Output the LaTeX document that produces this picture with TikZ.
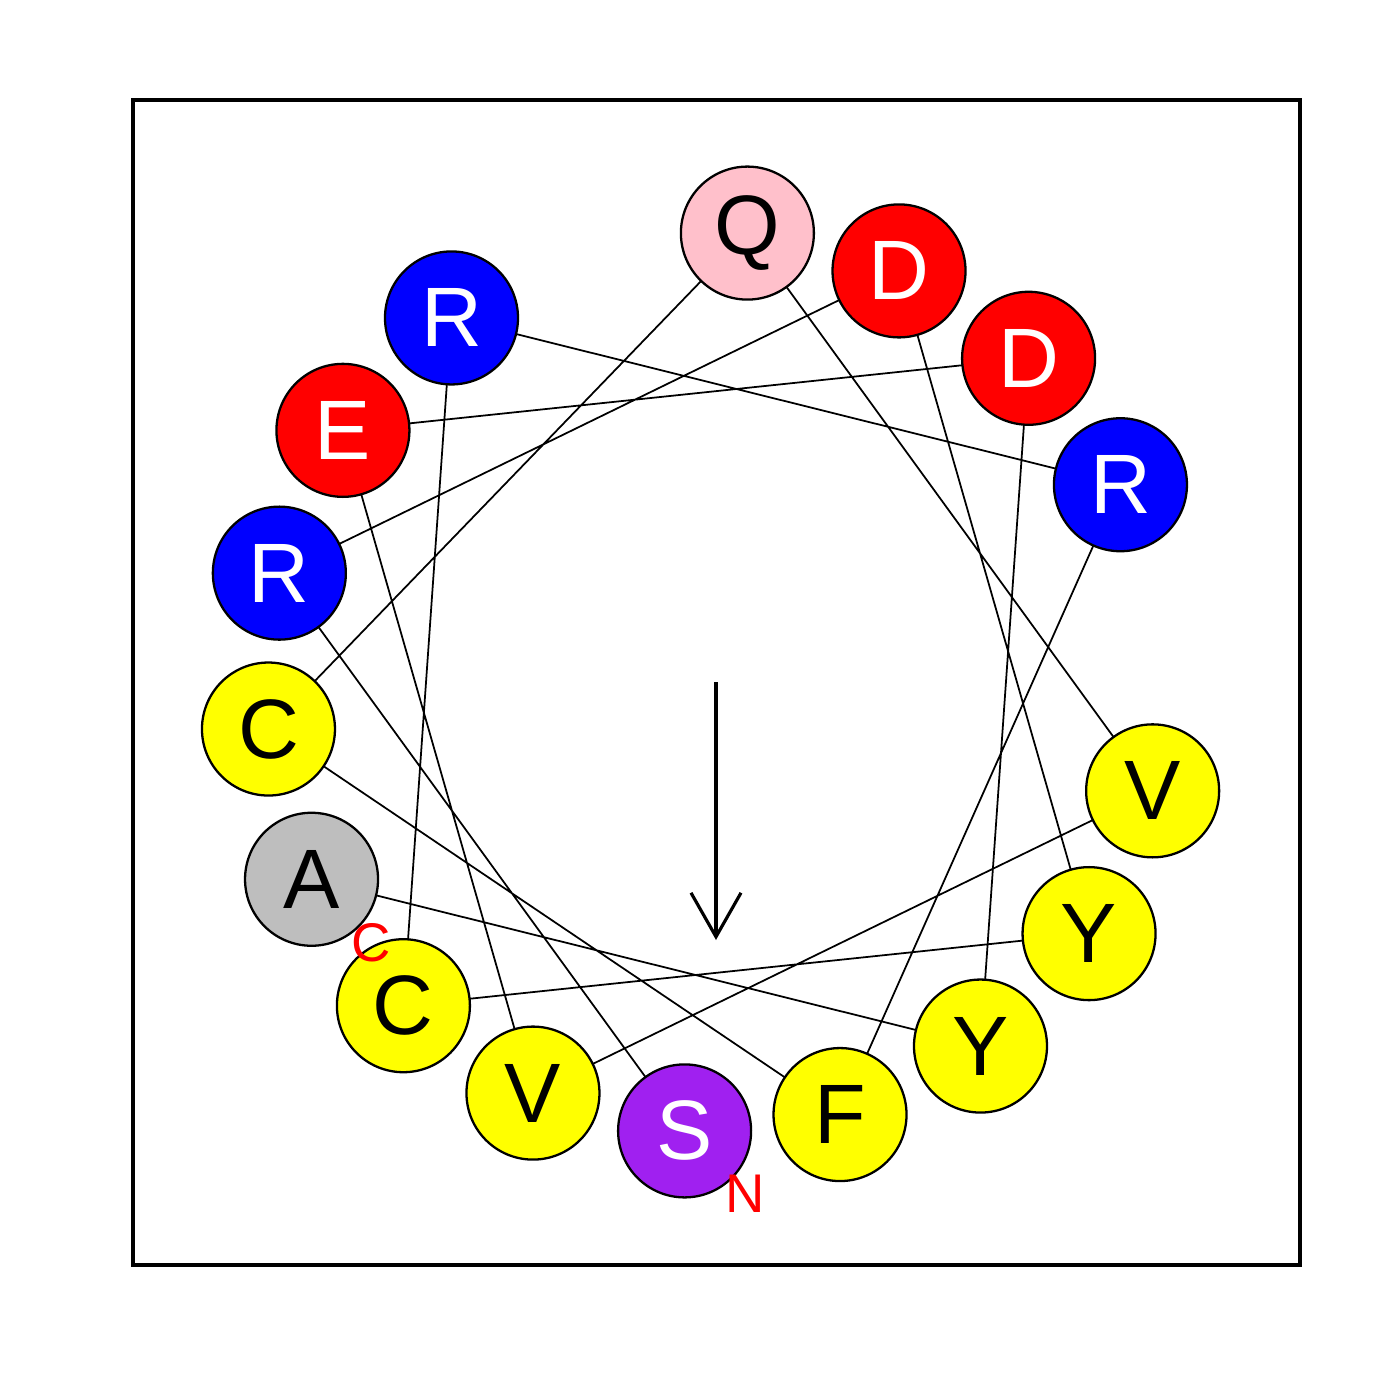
\documentclass[tikz,border=0pt]{standalone}
\usepackage{fontspec}
\setmainfont{Liberation Sans}
\usepackage{xcolor}
\usepackage{tikz}
\usetikzlibrary{arrows.meta,positioning}
\definecolor{hwred}{HTML}{FF0000}
\definecolor{hwblue}{HTML}{0000FF}
\definecolor{hwyellow}{HTML}{FFFF00}
\definecolor{hwpink}{HTML}{FFC0CB}
\definecolor{hwgray}{HTML}{BEBEBE}
\definecolor{hwpurple}{HTML}{A020F0}
\tikzset{
  hwres/.style={circle, draw, line width=0.65pt, minimum size=13.3mm, inner sep=0pt, outer sep=0pt, font=\fontsize{24}{28}\selectfont},
  hwacid/.style={hwres, fill=hwred, text=white},
  hwbasic/.style={hwres, fill=hwblue, text=white},
  hwhydro/.style={hwres, fill=hwyellow, text=black},
  hwamide/.style={hwres, fill=hwpink, text=black},
  hwsmall/.style={hwres, fill=hwgray, text=black},
  hwhydroxyl/.style={hwres, fill=hwpurple, text=white},
  hwlink/.style={line width=0.5pt},
  hwterm/.style={text=hwred, inner sep=0pt, font=\fontsize{15.5}{18}\selectfont},
  hwmoment/.style={-{Straight Barb[length=4.4mm, width=5mm, line width=0.9pt]}, line width=0.9pt},
  hwframe/.style={line width=0.9pt}
}

\begin{document}
\begin{tikzpicture}
\useasboundingbox (-7.16,-7.18) rectangle (6.84,6.82);
\draw[hwframe] (-5.83,-5.83) rectangle (5.84,5.82);

% residues, 100 degrees apart
\node[hwhydroxyl] (r1) at (266:4.5) {S};
\node[hwbasic] (r2) at (166:4.5) {R};
\node[hwacid] (r3) at (66:4.5) {D};
\node[hwhydro] (r4) at (326:4.5) {Y};
\node[hwhydro] (r5) at (226:4.5) {C};
\node[hwbasic] (r6) at (126:4.5) {R};
\node[hwbasic] (r7) at (26:4.5) {R};
\node[hwhydro] (r8) at (286:4.5) {F};
\node[hwhydro] (r9) at (186:4.5) {C};
\node[hwamide] (r10) at (86:4.5) {Q};
\node[hwhydro] (r11) at (346:4.5) {V};
\node[hwhydro] (r12) at (246:4.5) {V};
\node[hwacid] (r13) at (146:4.5) {E};
\node[hwacid] (r14) at (46:4.5) {D};
\node[hwhydro] (r15) at (306:4.5) {Y};
\node[hwsmall] (r16) at (206:4.5) {A};

\draw[hwlink] (r1) -- (r2) -- (r3) -- (r4) -- (r5) -- (r6) -- (r7) -- (r8)
  -- (r9) -- (r10) -- (r11) -- (r12) -- (r13) -- (r14) -- (r15) -- (r16);

% termini
\node[hwterm] (nterm) at ([shift={(0.61,-0.63)}]r1.center) {N};
\node[hwterm] (cterm) at ([shift={(0.6,-0.635)}]r16.center) {C};

% hydrophobic moment
\coordinate (mstart) at (0,0);
\coordinate (mend) at (0,-2.58);
\draw[hwmoment] (mstart) -- (mend);
\end{tikzpicture}
\end{document}
